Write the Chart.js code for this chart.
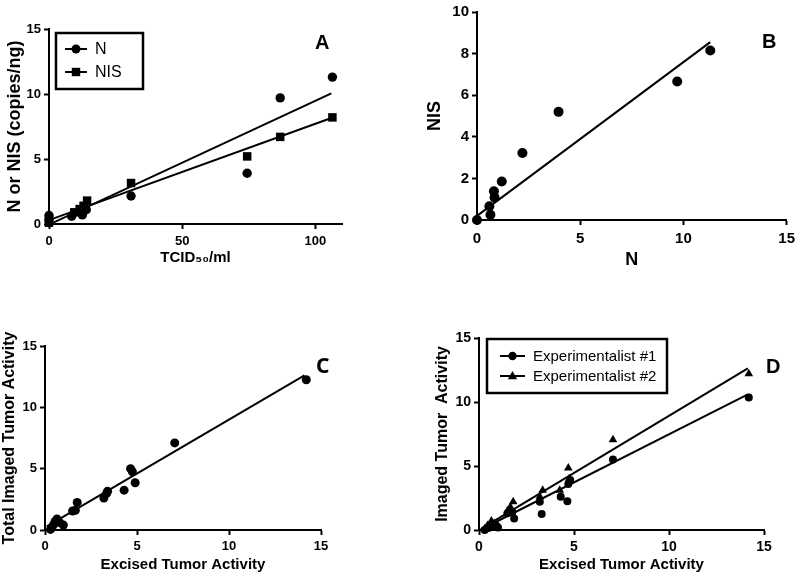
<!DOCTYPE html>
<html>
<head>
<meta charset="utf-8">
<script src="https://cdn.jsdelivr.net/npm/chart.js@4.4.0/dist/chart.umd.min.js"></script>
<style>
  body { margin: 0; background: #fff; width: 800px; height: 577px; position: relative; overflow: hidden; }
  .pane { position: absolute; }
  .tag { position: absolute; font-family: "Liberation Sans", Arial, sans-serif; font-weight: bold; color: #000; line-height: 1; }
</style>
</head>
<body>
<div class="pane" style="left:0;top:0"><canvas id="chartA" width="400" height="288"></canvas></div>
<div class="pane" style="left:400px;top:0"><canvas id="chartB" width="400" height="288"></canvas></div>
<div class="pane" style="left:0;top:288px"><canvas id="chartC" width="400" height="289"></canvas></div>
<div class="pane" style="left:400px;top:288px"><canvas id="chartD" width="400" height="289"></canvas></div>
<div class="tag" style="left:315px;top:32px;font-size:20px">A</div>
<div class="tag" style="left:762px;top:31px;font-size:20px">B</div>
<div class="tag" style="left:316px;top:355px;font-size:21px;font-family:'Noto Sans',sans-serif">C</div>
<div class="tag" style="left:766px;top:356px;font-size:20px">D</div>
<script>
// Panel A: N / NIS copies vs TCID50
const aN_x = [0, 0, 8.5, 12.5, 14, 30.8, 74.4, 86.8, 106.4];
const aN_y = [0.65, 0.3, 0.6, 0.7, 1.1, 2.15, 3.9, 9.7, 11.3];
const aNIS_x = [0, 0, 9.5, 11.5, 13, 14.3, 30.8, 74.4, 86.8, 106.4];
const aNIS_y = [0.1, 0.3, 0.9, 1.15, 1.4, 1.8, 3.15, 5.2, 6.7, 8.2];
const aFitN_x = [0, 106];
const aFitN_y = [-0.05, 10.05];
const aFitNIS_x = [0, 106];
const aFitNIS_y = [0.3, 8.15];
const aXTicks = [0, 50, 100];
const aYTicks = [0, 5, 10, 15];

// Panel B: NIS vs N
const bN = [0, 0.6, 0.65, 0.82, 0.85, 1.2, 2.2, 3.95, 9.7, 11.3];
const bNIS = [0, 0.66, 0.25, 1.38, 1.08, 1.85, 3.22, 5.2, 6.66, 8.15];
const bFit_x = [0, 11.3];
const bFit_y = [0.2, 8.55];
const bXTicks = [0, 5, 10, 15];
const bYTicks = [0, 2, 4, 6, 8, 10];

// Panel C: total imaged vs excised
const cExcised = [0.3, 0.45, 0.55, 0.65, 0.8, 1.0, 1.5, 1.65, 1.75, 3.2, 3.35, 3.4, 4.3, 4.65, 4.75, 4.9, 7.05, 14.2];
const cImaged = [0.05, 0.4, 0.7, 0.9, 0.6, 0.4, 1.55, 1.6, 2.25, 2.6, 3.0, 3.15, 3.25, 5.0, 4.75, 3.85, 7.1, 12.25];
const cFit_x = [0.1, 14.1];
const cFit_y = [0.3, 12.6];
const cTicks = [0, 5, 10, 15];

// Panel D: two experimentalists
const dExp1_x = [0.3, 0.5, 0.7, 0.9, 1.0, 1.5, 1.75, 1.85, 3.2, 3.3, 4.3, 4.65, 4.7, 4.8, 7.05, 14.2];
const dExp1_y = [0, 0.15, 0.3, 0.35, 0.2, 1.3, 1.4, 0.9, 2.2, 1.25, 2.6, 2.25, 3.6, 3.9, 5.5, 10.35];
const dExp2_x = [0.3, 0.45, 0.65, 0.8, 1.5, 1.65, 1.8, 3.2, 3.35, 4.25, 4.7, 4.75, 7.05, 14.2];
const dExp2_y = [0.1, 0.35, 0.7, 0.5, 1.5, 1.8, 2.2, 2.6, 3.1, 3.1, 4.85, 4.0, 7.05, 12.2];
const dFit1_x = [0.05, 14.15];
const dFit1_y = [0, 10.6];
const dFit2_x = [0.15, 14.15];
const dFit2_y = [0.13, 12.62];
const dTicks = [0, 5, 10, 15];

const FONT = '"Liberation Sans", Arial, sans-serif';
Chart.defaults.font.family = FONT;
Chart.defaults.color = '#000';

function pts(xs, ys) {
    return xs.map((x, i) => ({ x: x, y: ys[i] }));
}

function scatter(label, xs, ys, style, r) {
    return {
        type: 'scatter', label: label, data: pts(xs, ys),
        pointStyle: style, pointRadius: r, pointHoverRadius: r,
        backgroundColor: '#000', borderColor: '#000', borderWidth: 0, clip: false
    };
}

function fitLine(xs, ys) {
    return {
        type: 'line', label: 'fit', data: pts(xs, ys),
        borderColor: '#000', borderWidth: 2, pointRadius: 0, fill: false, clip: false
    };
}

function drawMarker(ctx, style, x, y, s) {
    ctx.beginPath();
    if (style === 'rect') {
        ctx.rect(x - s, y - s, 2 * s, 2 * s);
    } else if (style === 'triangle') {
        ctx.moveTo(x, y - s * 1.2);
        ctx.lineTo(x + s * 1.1, y + s * 0.8);
        ctx.lineTo(x - s * 1.1, y + s * 0.8);
        ctx.closePath();
    } else {
        ctx.arc(x, y, s, 0, Math.PI * 2);
    }
    ctx.fill();
}

// legend with a frame, line through the marker (Prism style)
const boxLegend = {
    id: 'boxLegend',
    afterDraw(chart, args, opts) {
        if (!opts || !opts.box) return;
        const ctx = chart.ctx;
        const b = opts.box;
        ctx.save();
        ctx.strokeStyle = '#000';
        ctx.fillStyle = '#000';
        ctx.lineWidth = 2.5;
        ctx.strokeRect(b.x, b.y, b.w, b.h);
        ctx.font = opts.font;
        ctx.textBaseline = 'middle';
        opts.rows.forEach(r => {
            const ds = chart.data.datasets[r.ds];
            ctx.lineWidth = 2;
            ctx.beginPath();
            ctx.moveTo(r.x1, r.y);
            ctx.lineTo(r.x2, r.y);
            ctx.stroke();
            drawMarker(ctx, ds.pointStyle, (r.x1 + r.x2) / 2, r.y, r.size);
            ctx.fillText(ds.label, r.tx, r.y + 1);
        });
        ctx.restore();
    }
};
Chart.register(boxLegend);

function axis(cfg) {
    return {
        type: 'linear',
        min: cfg.min, max: cfg.max,
        afterBuildTicks: s => { s.ticks = cfg.ticks.map(v => ({ value: v })); },
        afterFit: s => {
            if (cfg.width !== undefined) s.width = cfg.width;
            if (cfg.height !== undefined) s.height = cfg.height;
        },
        grid: { display: true, drawOnChartArea: false, drawTicks: true, tickLength: 5, tickWidth: 2, tickColor: '#000' },
        border: { display: true, color: '#000', width: 2 },
        ticks: { font: { size: cfg.tickSize, weight: 'bold' }, padding: cfg.tickPad || 3, color: '#000', maxRotation: 0 },
        title: {
            display: true, text: cfg.title, color: '#000',
            font: { size: cfg.titleSize, weight: 'bold' },
            padding: cfg.titlePad
        }
    };
}

function makeChart(id, datasets, xCfg, yCfg, padding, legendOpts) {
    return new Chart(document.getElementById(id), {
        type: 'scatter',
        data: { datasets: datasets },
        options: {
            responsive: false,
            animation: false,
            layout: { padding: padding },
            plugins: { legend: { display: false }, tooltip: { enabled: false }, boxLegend: legendOpts || {} },
            scales: { x: axis(xCfg), y: axis(yCfg) }
        }
    });
}

window.onload = function() {
    makeChart('chartA', [
        scatter('N', aN_x, aN_y, 'circle', 4.7),
        scatter('NIS', aNIS_x, aNIS_y, 'rect', 6),
        fitLine(aFitN_x, aFitN_y),
        fitLine(aFitNIS_x, aFitNIS_y)
    ],
    { min: 0, max: 110, ticks: aXTicks, height: 64, tickSize: 13, tickPad: 5, title: 'TCID\u2085\u2080/ml', titleSize: 15, titlePad: { top: 0, bottom: 21 } },
    { min: 0, max: 15, ticks: aYTicks, width: 49, tickSize: 13, title: 'N or NIS (copies/ng)', titleSize: 18, titlePad: { top: 4, bottom: 0 } },
    { left: 0, top: 29, right: 58, bottom: 0 },
    {
        box: { x: 56, y: 33, w: 87, h: 56 }, font: '16px ' + FONT,
        rows: [
            { ds: 0, y: 49, x1: 65, x2: 87, size: 4.5, tx: 95 },
            { ds: 1, y: 72, x1: 65, x2: 87, size: 4.2, tx: 95 }
        ]
    });

    makeChart('chartB', [
        scatter('NIS', bN, bNIS, 'circle', 5),
        fitLine(bFit_x, bFit_y)
    ],
    { min: 0, max: 15, ticks: bXTicks, height: 68, tickSize: 15, tickPad: 5, title: 'N', titleSize: 18, titlePad: { top: 0, bottom: 17 } },
    { min: 0, max: 10, ticks: bYTicks, width: 77, tickSize: 15, title: 'NIS', titleSize: 18, titlePad: { top: 24, bottom: 0 } },
    { left: 0, top: 7, right: 12, bottom: 0 });

    makeChart('chartC', [
        scatter('Total', cExcised, cImaged, 'circle', 4.5),
        fitLine(cFit_x, cFit_y)
    ],
    { min: 0, max: 15, ticks: cTicks, height: 47, tickSize: 13, tickPad: 4, title: 'Excised Tumor Activity', titleSize: 15, titlePad: { top: 0, bottom: 3 } },
    { min: 0, max: 15, ticks: cTicks, width: 45, tickSize: 13, title: 'Total Imaged Tumor Activity', titleSize: 16, titlePad: { top: 0, bottom: 0 } },
    { left: 0, top: 58, right: 79, bottom: 0 });

    makeChart('chartD', [
        scatter('Experimentalist #1', dExp1_x, dExp1_y, 'circle', 4),
        scatter('Experimentalist #2', dExp2_x, dExp2_y, 'triangle', 5),
        fitLine(dFit1_x, dFit1_y),
        fitLine(dFit2_x, dFit2_y)
    ],
    { min: 0, max: 15, ticks: dTicks, height: 47, tickSize: 14, tickPad: 4, title: 'Excised Tumor Activity', titleSize: 15, titlePad: { top: 0, bottom: 3 } },
    { min: 0, max: 15, ticks: dTicks, width: 79, tickSize: 14, title: 'Imaged Tumor  Activity', titleSize: 16, titlePad: { top: 33, bottom: 0 } },
    { left: 0, top: 50, right: 36, bottom: 0 },
    {
        box: { x: 87, y: 51, w: 180, h: 54 }, font: '15px ' + FONT,
        rows: [
            { ds: 0, y: 68, x1: 100, x2: 125, size: 4.2, tx: 133 },
            { ds: 1, y: 88, x1: 100, x2: 125, size: 4.2, tx: 133 }
        ]
    });
};
</script>
</body>
</html>
